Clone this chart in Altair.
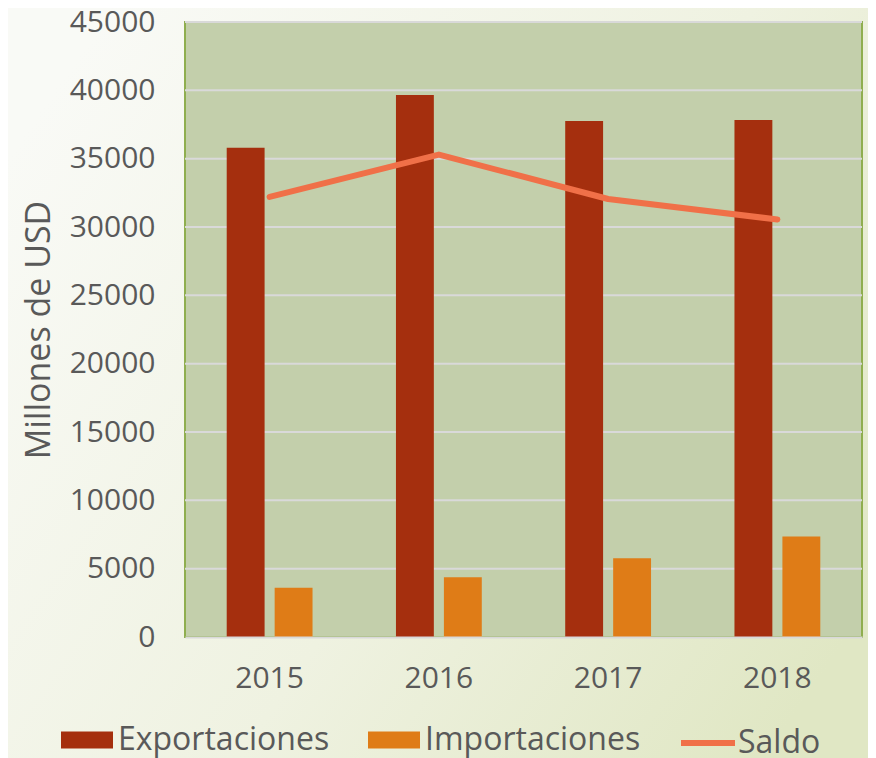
import altair as alt
import pandas as pd

years = ["2015", "2016", "2017", "2018"]
exportaciones = [35800, 39650, 37760, 37830]
importaciones = [3600, 4380, 5770, 7360]
saldo = [32200, 35300, 32050, 30550]
y_ticks = [0, 5000, 10000, 15000, 20000, 25000, 30000, 35000, 40000, 45000]

FONT = "Open Sans"
TXT = "#595959"
W, H = 677, 615
PAD_B = 121

bars = pd.DataFrame(
    [{"year": y, "serie": "Exportaciones", "v": v} for y, v in zip(years, exportaciones)]
    + [{"year": y, "serie": "Importaciones", "v": v} for y, v in zip(years, importaciones)]
)
line = pd.DataFrame({"year": years, "serie": "Saldo", "v": saldo})
grid = pd.DataFrame({"v": y_ticks})
one = pd.DataFrame({"k": [0]})

xscale = alt.Scale(domain=years, paddingInner=0, paddingOuter=0)
yscale = alt.Scale(domain=[0, 45000], nice=False)

xaxis = alt.Axis(
    title=None, labelFont=FONT, labelFontSize=30, labelColor=TXT, ticks=False, tickSize=0,
    labelPadding=41, labelBaseline="middle", labelAngle=0, grid=False,
    domain=True, domainColor="#d9d9d9", domainWidth=2, zindex=1,
)
yaxis = alt.Axis(
    title="Millones de USD", titleFont=FONT, titleFontSize=34, titleFontWeight="normal",
    titleColor=TXT, titleX=-146, titleY=H / 2, titleAngle=270, titleBaseline="middle",
    titleAlign="center", labelFont=FONT, labelFontSize=30, labelColor=TXT, ticks=False,
    tickSize=0, labelPadding=30, domain=False, grid=False, values=y_ticks, format="d",
    zindex=1,
)

bg = alt.Chart(one).mark_rect(
    color=alt.LinearGradient(
        gradient="linear",
        stops=[
            alt.GradientStop(color="#f9faf6", offset=0),
            alt.GradientStop(color="#eff2e1", offset=0.55),
            alt.GradientStop(color="#e0e7c4", offset=1),
        ],
        x1=0, y1=0.2, x2=1, y2=0.8,
    )
).encode(x=alt.value(-177), x2=alt.value(W + 6), y=alt.value(-14), y2=alt.value(H + PAD_B))

plot_bg = alt.Chart(one).mark_rect(fill="#c3cfab", stroke="#8fae4f", strokeWidth=2).encode(
    x=alt.value(0), x2=alt.value("width"), y=alt.value(0), y2=alt.value("height")
)

gridlines = alt.Chart(grid).transform_filter("datum.v > 0").mark_rule(
    color="#d9d9d9", strokeWidth=2
).encode(y=alt.Y("v:Q", scale=yscale, axis=yaxis))

bar_layer = alt.Chart(bars).mark_bar().encode(
    x=alt.X("year:N", scale=xscale, axis=xaxis),
    xOffset=alt.XOffset(
        "serie:N",
        scale=alt.Scale(domain=["Exportaciones", "Importaciones"], paddingInner=0.21, paddingOuter=0.87),
    ),
    y=alt.Y("v:Q", scale=yscale, axis=yaxis),
    color=alt.Color(
        "serie:N",
        scale=alt.Scale(domain=["Exportaciones", "Importaciones"], range=["#a52f0e", "#df7c17"]),
        legend=alt.Legend(
            title=None, orient="none", legendX=-124, legendY=692, direction="horizontal",
            symbolType="M-1,-0.33H1V0.33H-1Z", symbolSize=2704, symbolStrokeWidth=0,
            labelFont=FONT, labelFontSize=32, labelColor=TXT, labelOffset=5,
            columnPadding=38, padding=0, labelLimit=400,
        ),
    ),
)

line_layer = alt.Chart(line).mark_line(strokeWidth=6, strokeCap="round", strokeJoin="round").encode(
    x=alt.X("year:N", scale=xscale, axis=xaxis),
    y=alt.Y("v:Q", scale=yscale, axis=yaxis),
    stroke=alt.Stroke(
        "serie:N",
        scale=alt.Scale(domain=["Saldo"], range=["#f07048"]),
        legend=alt.Legend(
            title=None, orient="none", legendX=493, legendY=691, direction="horizontal",
            symbolType="stroke", symbolSize=2916, symbolStrokeWidth=6,
            labelFont=FONT, labelFontSize=32, labelColor=TXT, labelOffset=0, padding=0,
        ),
    ),
)

chart = (
    alt.layer(bg, plot_bg, gridlines, bar_layer, line_layer)
    .resolve_scale(color="independent", stroke="independent")
    .properties(
        width=W, height=H,
        autosize=alt.AutoSizeParams(type="none"),
        padding={"left": 177, "top": 14, "right": 6, "bottom": PAD_B},
        background="#f3f5ea",
    )
    .configure_view(strokeWidth=0)
)

chart.save("out.html", embed_options={"renderer": "svg", "actions": False})
